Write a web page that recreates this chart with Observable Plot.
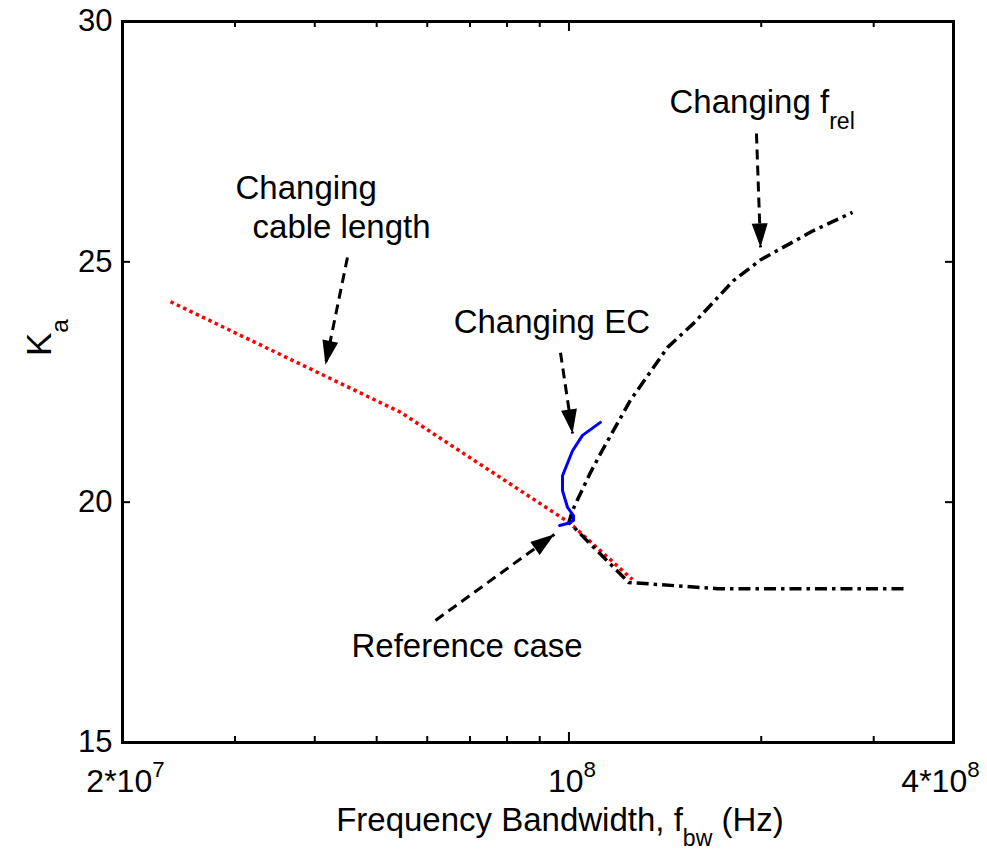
<!DOCTYPE html>
<html>
<head>
<meta charset="utf-8">
<script src="https://cdn.jsdelivr.net/npm/d3@7"></script>
<script src="https://cdn.jsdelivr.net/npm/@observablehq/plot@0.6"></script>
<style>
  html, body { margin: 0; padding: 0; background: #fff; }
  svg { display: block; }
</style>
</head>
<body>
<div id="chart"></div>
<script>
// ---- Data ----
// Changing cable length (red dotted)
const cableF = [2.378e7, 5.45e7, 1.0e8, 1.257e8];
const cableK = [24.17, 21.87, 19.58, 18.39];
// Changing f_rel (black dash-dot)
const frelF = [3.34e8, 1.71e8, 1.24e8, 1.0e8, 1.013e8, 1.081e8, 1.128e8, 1.248e8, 1.427e8, 1.567e8, 1.81e8, 2.0e8, 2.415e8, 2.78e8];
const frelK = [18.20, 18.20, 18.33, 19.58, 19.83, 20.62, 21.08, 22.12, 23.22, 23.72, 24.61, 25.05, 25.65, 26.03];
// Changing EC (blue solid)
const ecF = [9.67e7, 9.98e7, 1.0165e8, 1.0165e8, 9.95e7, 9.77e7, 9.77e7, 1.013e8, 1.05e8, 1.12e8];
const ecK = [19.515, 19.56, 19.62, 19.72, 19.89, 20.24, 20.55, 21.07, 21.39, 21.66];

// Axis ticks
const xMinorTicks = [3e7, 4e7, 5e7, 6e7, 7e7, 8e7, 9e7, 2e8, 3e8];
const xMajorTicks = [1e8];
const xLabelValues = [2e7, 1e8, 4e8];
const xLabelTexts = ["2*10^{7}", "10^{8}", "4*10^{8}"];
const yTicks = [15, 20, 25, 30];

// Annotations (data coordinates)
const annoText = ["Changing", "cable length", "Changing EC", "Changing f_{rel}", "Reference case"];
const annoF = [3.006e7, 3.196e7, 6.6e7, 1.437e8, 4.566e7];
const annoK = [26.30, 25.49, 23.51, 28.09, 16.77];

// Annotation arrows: from (label) -> to (curve)
const arrowFromF = [4.50e7, 9.70e7, 1.966e8, 6.18e7];
const arrowFromK = [25.09, 23.11, 27.67, 17.54];
const arrowToF = [4.157e7, 1.013e8, 1.995e8, 9.49e7];
const arrowToK = [22.86, 21.43, 25.30, 19.33];

// ---- Layout ----
const W = 987, H = 852;
const mL = 122, mR = 34, mT = 21, mB = 110;
const xDomain = [2e7, 4e8], yDomain = [15, 30];
const plotW = W - mL - mR, plotH = H - mT - mB;
const font = "'Liberation Sans', Arial, Helvetica, sans-serif";

// mirror of Plot's scales (only used to orient arrowheads on screen)
const xs = d3.scaleLog().domain(xDomain).range([mL, W - mR]);
const ys = d3.scaleLinear().domain(yDomain).range([H - mB, mT]);

const toRows = (F, K) => F.map((f, i) => ({f, k: K[i]}));
const cable = toRows(cableF, cableK);
const frel = toRows(frelF, frelK);
const ec = toRows(ecF, ecK);
const annos = annoText.map((t, i) => ({t, f: annoF[i], k: annoK[i]}));
const arrows = arrowFromF.map((f, i) => ({f1: f, k1: arrowFromK[i], f2: arrowToF[i], k2: arrowToK[i]}));
const xLabels = xLabelValues.map((v, i) => ({v, t: xLabelTexts[i]}));
const lastX = xLabelValues[xLabelValues.length - 1];

function headSymbol(a) {
  const dx = xs(a.f2) - xs(a.f1), dy = ys(a.k2) - ys(a.k1);
  const len = Math.hypot(dx, dy), ux = dx / len, uy = dy / len;
  const L = 24, Wd = 8;
  return {
    draw(ctx) {
      const bx = -ux * L, by = -uy * L;
      ctx.moveTo(0, 0);
      ctx.lineTo(bx - uy * Wd, by + ux * Wd);
      ctx.lineTo(bx + uy * Wd, by - ux * Wd);
      ctx.closePath();
    }
  };
}

const marks = [
  // data series
  Plot.line(cable, {x: "f", y: "k", stroke: "#ff0000", strokeWidth: 3.5, strokeDasharray: "3.5 3.5", strokeLinecap: "butt"}),
  Plot.line(frel, {x: "f", y: "k", stroke: "#000", strokeWidth: 3.5, strokeDasharray: "12 5 3.5 5", strokeLinecap: "butt"}),
  Plot.line(ec, {x: "f", y: "k", stroke: "#0000ff", strokeWidth: 3}),
  // arrows
  Plot.link(arrows, {x1: "f1", y1: "k1", x2: "f2", y2: "k2", stroke: "#000", strokeWidth: 3, strokeDasharray: "10 6"}),
  ...arrows.map(a => Plot.dot([a], {x: "f2", y: "k2", symbol: headSymbol(a), fill: "#000", stroke: "none"})),
  // annotation texts
  Plot.text(annos, {x: "f", y: "k", text: "t", textAnchor: "start", lineAnchor: "bottom", fontSize: 33}),
  // ticks (inward, box on)
  Plot.tickX(xMinorTicks, {x: d => d, insetTop: plotH - 6, strokeWidth: 2}),
  Plot.tickX(xMinorTicks, {x: d => d, insetBottom: plotH - 6, strokeWidth: 2}),
  Plot.tickX(xMajorTicks, {x: d => d, insetTop: plotH - 10, strokeWidth: 2}),
  Plot.tickX(xMajorTicks, {x: d => d, insetBottom: plotH - 10, strokeWidth: 2}),
  Plot.tickY(yTicks, {y: d => d, insetRight: plotW - 8, strokeWidth: 2}),
  Plot.tickY(yTicks, {y: d => d, insetLeft: plotW - 8, strokeWidth: 2}),
  // tick labels
  Plot.text(yTicks, {y: d => d, text: d => String(d), frameAnchor: "left", textAnchor: "end", dx: -10, fontSize: 31}),
  Plot.text(xLabels.filter(d => d.v !== lastX), {x: "v", text: "t", frameAnchor: "bottom", lineAnchor: "bottom", dy: 49, dx: 3, fontSize: 32}),
  Plot.text(xLabels.filter(d => d.v === lastX), {x: "v", text: "t", frameAnchor: "bottom", lineAnchor: "bottom", dy: 49, dx: -13, fontSize: 32}),
  // axis titles
  Plot.text(["Frequency Bandwidth, f_{bw} (Hz)"], {frameAnchor: "bottom", lineAnchor: "bottom", dy: 88, dx: 22, fontSize: 33}),
  Plot.text(["K_{a}"], {frameAnchor: "left", rotate: -90, dx: -83, dy: -26, fontSize: 35}),
  // box
  Plot.frame({stroke: "#000", strokeWidth: 3})
];

const chart = Plot.plot({
  width: W, height: H,
  marginLeft: mL, marginRight: mR, marginTop: mT, marginBottom: mB,
  x: {type: "log", domain: xDomain, axis: null},
  y: {type: "linear", domain: yDomain, axis: null},
  style: {fontFamily: font, background: "#fff", color: "#000", overflow: "visible"},
  marks
});

// Convert ^{..} and _{..} into real superscript / subscript tspans
function scriptify(svg) {
  svg.querySelectorAll("text").forEach(el => {
    const s = el.textContent;
    if (!/[\^_]\{/.test(s)) return;
    const parts = [];
    const re = /([\^_])\{([^}]*)\}/g;
    let last = 0, m;
    while ((m = re.exec(s))) {
      if (m.index > last) parts.push({t: s.slice(last, m.index), k: "n"});
      parts.push({t: m[2], k: m[1] === "^" ? "sup" : "sub"});
      last = re.lastIndex;
    }
    if (last < s.length) parts.push({t: s.slice(last), k: "n"});
    while (el.firstChild) el.removeChild(el.firstChild);
    const ns = "http://www.w3.org/2000/svg";
    const scale = 0.7;
    const supShift = 0.45, subShift = 0.48; // in base em
    let offset = 0;
    parts.forEach(p => {
      const ts = document.createElementNS(ns, "tspan");
      ts.textContent = p.t;
      const target = p.k === "sup" ? -supShift : p.k === "sub" ? subShift : 0;
      const delta = target - offset;
      if (p.k === "n") {
        if (delta !== 0) ts.setAttribute("dy", delta + "em");
      } else {
        ts.setAttribute("font-size", (scale * 100) + "%");
        if (delta !== 0) ts.setAttribute("dy", (delta / scale) + "em");
      }
      offset = target;
      el.appendChild(ts);
    });
  });
}
scriptify(chart);
document.getElementById("chart").appendChild(chart);
</script>
</body>
</html>
